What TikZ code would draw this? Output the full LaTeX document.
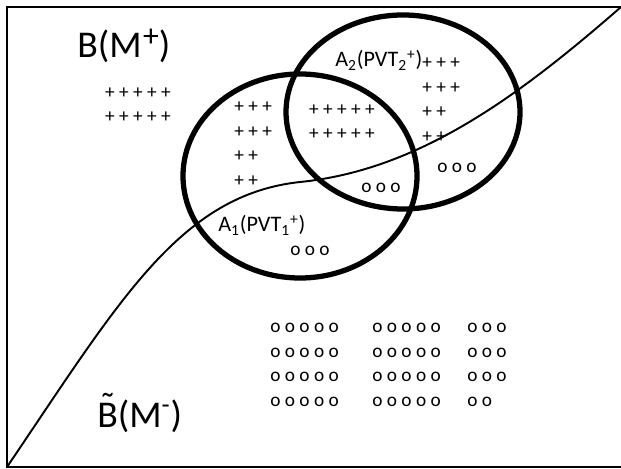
\documentclass[tikz,border=0pt]{standalone}
\usepackage{fontspec}
\setmainfont{Carlito}
\newcommand{\tildeB}{\ooalign{B\cr\hidewidth\raisebox{.22em}{\char"02DC}\hidewidth\cr}}
\tikzset{
  setring/.style={ % style for the two sets
    draw, % outline only
    line width=3pt, % drawn as a heavy ring
  },
  boundary/.style={ % style for the curve splitting the space
    line width=1.1pt,
  },
  frame/.style={ % style for the outer box
    line width=1pt,
  },
  biglabel/.style={ % labels of the two regions
    anchor=base west, % placed by the start of the baseline
    inner sep=0pt, % no padding round the text
    font=\fontsize{21.5}{24}\selectfont,
  },
  setlabel/.style={ % labels of the sets
    biglabel, % inherit the region label style
    font=\fontsize{12.6}{15}\selectfont,
  },
  marks/.style={ % blocks of + and o symbols
    inner sep=0pt, % no padding round the block
    align=left, % rows start flush left
    font=\fontsize{11}{14}\selectfont,
  },
}

\begin{document}
\begin{tikzpicture}[x=0.02cm, y=-0.02cm]
	\useasboundingbox (0,0) rectangle (621,469);
	
	% outer box and splitting curve
	\coordinate (tl) at (7,7);
	\coordinate (tr) at (621,7);
	\coordinate (bl) at (7,467);
	\coordinate (br) at (621,467);
	\coordinate (mid) at (300,182);
	\draw[frame] (tr) -- (tl) -- (bl) -- (br);
	\draw[boundary] (bl) .. controls (120,300) and (180,195) .. (mid)
		.. controls (420,170) and (520,95) .. (tr);
	
	% the two sets
	\draw[setring] (300,176) ellipse [x radius=117, y radius=102];
	\draw[setring] (403,112) ellipse [x radius=117, y radius=97];
	
	% labels
	\node[biglabel] (bplus) at (77,58) {B(M\kern.04em\raisebox{.3em}{\fontsize{18}{18}\selectfont +})};
	\node[biglabel] (bminus) at (97,427) {\tildeB(M\textsuperscript{-})};
	\node[setlabel] (aone) at (218,232) {A\textsubscript{1}(PVT\textsubscript{1}\textsuperscript{+})};
	\node[setlabel] (atwo) at (335,67) {A\textsubscript{2}(PVT\textsubscript{2}\textsuperscript{+})};
	
	% positive marks
	\node[marks] (pout) at (138,105) {+ + + + +\\+ + + + +};
	\node[marks, anchor=west] (pone) at (234,144) {+ + +\\+ + +\\+ +\\+ +};
	\node[marks] (pboth) at (342,122) {+ + + + +\\+ + + + +};
	\node[marks, anchor=west] (ptwo) at (422,100) {+ + +\\+ + +\\+ +\\+ +};
	
	% negative marks
	\node[marks] (ntwo) at (457,168) {o o o};
	\node[marks] (nboth) at (381,188) {o o o};
	\node[marks] (none) at (310,251) {o o o};
	\node[marks, anchor=west] (ngridA) at (270,365) {o o o o o\\o o o o o\\o o o o o\\o o o o o};
	\node[marks, anchor=west] (ngridB) at (372,365) {o o o o o\\o o o o o\\o o o o o\\o o o o o};
	\node[marks, anchor=west] (ngridC) at (467,365) {o o o\\o o o\\o o o\\o o};
\end{tikzpicture}
\end{document}
